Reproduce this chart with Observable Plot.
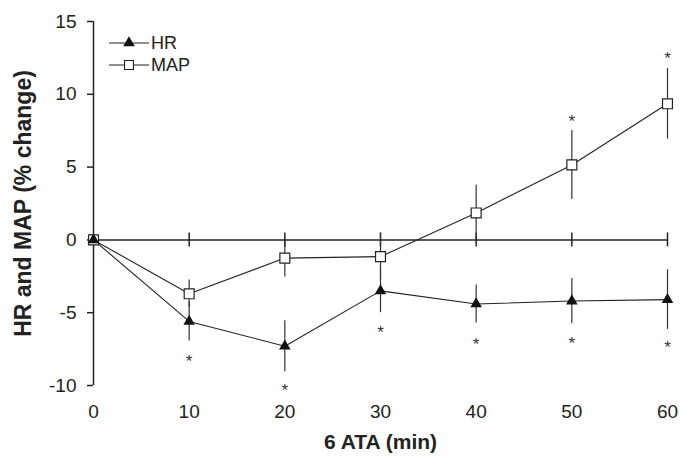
<!DOCTYPE html>
<html><head><meta charset="utf-8">
<script src="https://cdn.jsdelivr.net/npm/d3@7"></script>
<script src="https://cdn.jsdelivr.net/npm/@observablehq/plot@0.6"></script>
<style>
body{margin:0;background:#fff;font-family:"Liberation Sans",Arial,sans-serif;}
#wrap{position:relative;width:682px;height:459px;}
#legend{position:absolute;left:108px;top:32px;font-size:18px;color:#222;}
.row{display:flex;align-items:center;height:22px;}
.row svg{display:block;}
.row span{margin-left:1px;}
</style></head><body><div id="wrap"><div id="legend"></div></div>
<script>
const minutes = [0, 10, 20, 30, 40, 50, 60];
const hrMean = [0, -5.6, -7.3, -3.5, -4.4, -4.2, -4.1];
const hrSE = [0, 1.35, 1.75, 1.5, 1.3, 1.55, 2.05];
const mapMean = [0, -3.7, -1.25, -1.15, 1.85, 5.15, 9.35];
const mapSE = [0, 0.95, 1.3, 1.55, 1.9, 2.37, 2.43];
const hrStarMinutes = [10, 20, 30, 40, 50, 60];
const hrStarY = [-8.0, -10.0, -6.0, -6.85, -6.8, -7.05];
const mapStarMinutes = [50, 60];
const mapStarY = [8.45, 12.8];
const xTicks = [0, 10, 20, 30, 40, 50, 60];
const yTicks = [-10, -5, 0, 5, 10, 15];
const seriesNames = ["HR", "MAP"];
const yLabel = "HR and MAP (% change)";
const xLabel = "6 ATA (min)";

const ink = "#222";
const hr = minutes.map((m, i) => ({m, v: hrMean[i], lo: hrMean[i] - hrSE[i], hi: hrMean[i] + hrSE[i]}));
const map = minutes.map((m, i) => ({m, v: mapMean[i], lo: mapMean[i] - mapSE[i], hi: mapMean[i] + mapSE[i]}));
const stars = [
  ...hrStarMinutes.map((m, i) => ({m, v: hrStarY[i]})),
  ...mapStarMinutes.map((m, i) => ({m, v: mapStarY[i]}))
];

const chart = Plot.plot({
  width: 682, height: 459,
  marginLeft: 93, marginRight: 15, marginTop: 21, marginBottom: 74,
  style: {fontFamily: "Liberation Sans, Arial, sans-serif", fontSize: "19px", color: ink, background: "#fff", overflow: "visible"},
  x: {domain: [0, 60]},
  y: {domain: [-10, 15]},
  marks: [
    Plot.ruleX([0], {stroke: ink, strokeWidth: 1.5}),
    Plot.ruleY([0], {stroke: ink, strokeWidth: 1.5}),
    Plot.ruleX(xTicks.filter(d => d > 0), {x: d => d, y1: 0, y2: 0, insetTop: -7, insetBottom: -7, stroke: ink, strokeWidth: 1.5}),
    Plot.axisY({ticks: yTicks, tickFormat: d => String(d), tickSize: 6, tickPadding: 11, label: null, stroke: ink, strokeWidth: 1.5, fontSize: 19}),
    Plot.axisX({ticks: xTicks, tickFormat: d => String(d), tickSize: 0, tickPadding: 19, label: null, fontSize: 19}),
    Plot.ruleX(map.filter(d => d.m > 0), {x: "m", y1: "lo", y2: "hi", stroke: "#333", strokeWidth: 1.2}),
    Plot.ruleX(hr.filter(d => d.m > 0), {x: "m", y1: "lo", y2: "hi", stroke: "#333", strokeWidth: 1.2}),
    Plot.line(map, {x: "m", y: "v", stroke: ink, strokeWidth: 1.1}),
    Plot.line(hr, {x: "m", y: "v", stroke: ink, strokeWidth: 1.1}),
    Plot.dot(map, {x: "m", y: "v", symbol: "square", r: 5.6, fill: "white", stroke: ink, strokeWidth: 1.2}),
    Plot.dot(hr, {x: "m", y: "v", symbol: "triangle", r: 4.3, fill: "#111", stroke: "none"}),
    Plot.text(stars, {x: "m", y: "v", text: () => "*", fontSize: 17, fill: "#333", dy: 5}),
    Plot.text([yLabel], {frameAnchor: "left", textAnchor: "middle", rotate: -90, dx: -70, fontWeight: "bold", fontSize: 23}),
    Plot.text([xLabel], {frameAnchor: "bottom", textAnchor: "middle", dy: 57, lineAnchor: "middle", fontWeight: "bold", fontSize: 21})
  ]
});
document.getElementById("wrap").prepend(chart);

// legend
const legend = document.getElementById("legend");
const syms = [
  {type: d3.symbolTriangle, size: Math.PI * 4.3 * 4.3, fill: "#111", stroke: "none"},
  {type: d3.symbolSquare, size: Math.PI * 5.0 * 5.0, fill: "white", stroke: ink}
];
seriesNames.forEach((name, i) => {
  const row = document.createElement("div");
  row.className = "row";
  const svg = d3.create("svg").attr("width", 42).attr("height", 22);
  svg.append("line").attr("x1", 1).attr("x2", 41).attr("y1", 11).attr("y2", 11).attr("stroke", ink).attr("stroke-width", 1.1);
  svg.append("path").attr("transform", "translate(21,11)")
    .attr("d", d3.symbol().type(syms[i].type).size(syms[i].size)())
    .attr("fill", syms[i].fill).attr("stroke", syms[i].stroke).attr("stroke-width", 1.1);
  row.append(svg.node());
  const span = document.createElement("span");
  span.textContent = name;
  row.append(span);
  legend.append(row);
});
</script></body></html>
